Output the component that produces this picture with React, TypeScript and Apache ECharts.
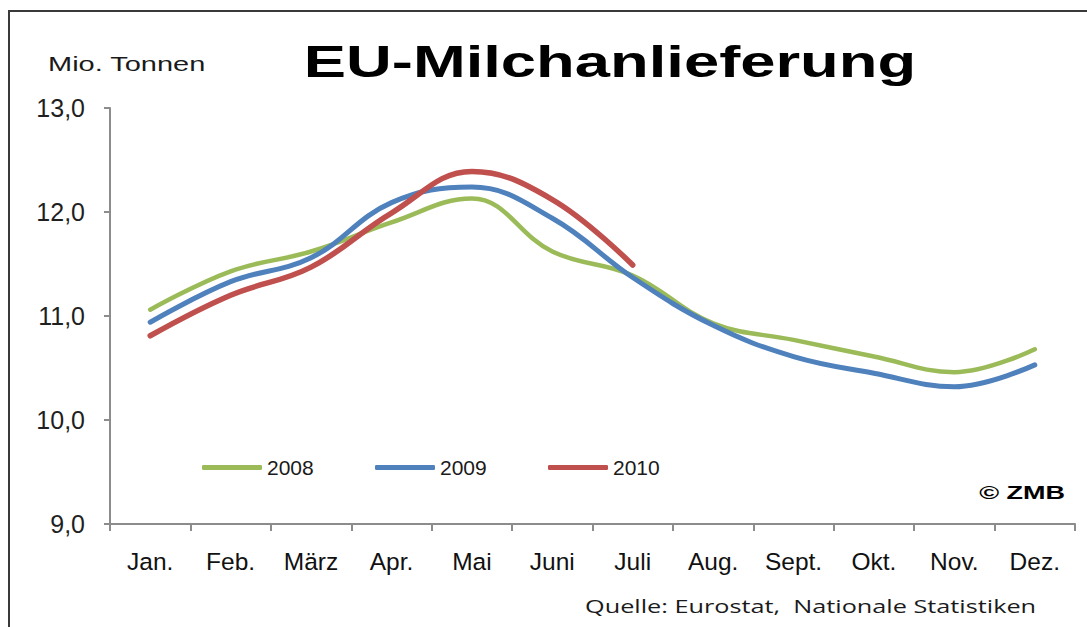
import React, { useEffect, useRef } from "react";
import * as echarts from "echarts";

const months = ["Jan.", "Feb.", "März", "Apr.", "Mai", "Juni", "Juli", "Aug.", "Sept.", "Okt.", "Nov.", "Dez."];
const values2008 = [11.06, 11.43, 11.62, 11.9, 12.13, 11.62, 11.39, 10.93, 10.77, 10.61, 10.46, 10.68];
const values2009 = [10.94, 11.33, 11.56, 12.09, 12.24, 11.94, 11.37, 10.91, 10.61, 10.45, 10.32, 10.53];
const values2010 = [10.81, 11.2, 11.47, 11.99, 12.39, 12.12, 11.49];
const yTicks = { min: 9, max: 13, interval: 1 };

const GREEN = "#9BBB59";
const BLUE = "#4F81BD";
const RED = "#C0504D";

export default function App() {
  const ref = useRef<HTMLDivElement>(null);
  useEffect(() => {
    if (!ref.current) return;
    const chart = echarts.init(ref.current, undefined, { renderer: "svg" });
    const legendText = { color: "#1a1a1a", fontSize: 21, fontFamily: "Liberation Sans" };
    const legendCommon = {
      top: 457,
      icon: "roundRect",
      itemWidth: 60,
      itemHeight: 5,
      textStyle: legendText,
      selectedMode: false,
      padding: 0,
    };
    chart.setOption({
      animation: false,
      backgroundColor: "#ffffff",
      grid: { left: 110, right: 12, top: 108, bottom: 103, containLabel: false },
      legend: [
        { ...legendCommon, left: 202, data: ["2008"] },
        { ...legendCommon, left: 375, data: ["2009"] },
        { ...legendCommon, left: 548, data: ["2010"] },
      ],
      xAxis: {
        type: "category",
        data: months,
        boundaryGap: true,
        axisLine: { lineStyle: { color: "#8c8c8c", width: 2 } },
        axisTick: { show: true, length: 7, lineStyle: { color: "#8c8c8c", width: 2 } },
        axisLabel: { color: "#111", fontSize: 24.5, fontFamily: "Liberation Sans", margin: 25 },
      },
      yAxis: {
        type: "value",
        min: yTicks.min,
        max: yTicks.max,
        interval: yTicks.interval,
        axisLine: { show: true, lineStyle: { color: "#8c8c8c", width: 2 } },
        axisTick: { show: true, length: 6, lineStyle: { color: "#8c8c8c", width: 2 } },
        splitLine: { show: false },
        axisLabel: {
          color: "#1f1f1f",
          fontSize: 25,
          fontFamily: "Liberation Sans",
          margin: 25,
          formatter: (v: number) => v.toFixed(1).replace(".", ","),
        },
      },
      series: [
        { name: "2008", type: "line", data: values2008, smooth: 0.4, symbol: "none", color: GREEN, lineStyle: { width: 4.5, color: GREEN, cap: "round" } },
        { name: "2009", type: "line", data: values2009, smooth: 0.4, symbol: "none", color: BLUE, lineStyle: { width: 5, color: BLUE, cap: "round" } },
        { name: "2010", type: "line", data: values2010, smooth: 0.4, symbol: "none", color: RED, lineStyle: { width: 5.5, color: RED, cap: "round" } },
      ],
      graphic: [
        {
          type: "polyline",
          shape: { points: [[9, 640], [9, 11], [1100, 11]] },
          style: { stroke: "#3a3a3a", lineWidth: 2, fill: "none" },
          silent: true,
        },
        {
          type: "text",
          x: 610,
          y: 62,
          scaleX: 1.44,
          style: {
            text: "EU-Milchanlieferung",
            font: "bold 44px 'Liberation Sans'",
            fill: "#000",
            textAlign: "center",
            textVerticalAlign: "middle",
          },
        },
        {
          type: "text",
          x: 48,
          y: 64,
          scaleX: 1.45,
          style: {
            text: "Mio. Tonnen",
            font: "20px 'Liberation Sans'",
            fill: "#1a1a1a",
            textAlign: "left",
            textVerticalAlign: "middle",
          },
        },
        {
          type: "text",
          x: 1065,
          y: 492,
          scaleX: 1.42,
          style: {
            text: "© ZMB",
            font: "bold 19px 'Liberation Sans'",
            fill: "#000",
            textAlign: "right",
            textVerticalAlign: "middle",
          },
        },
        {
          type: "text",
          x: 585,
          y: 606,
          scaleX: 1.33,
          style: {
            text: "Quelle: Eurostat,  Nationale Statistiken",
            font: "19px 'Open Sans'",
            fill: "#1a1a1a",
            textAlign: "left",
            textVerticalAlign: "middle",
          },
        },
      ],
    });
    return () => chart.dispose();
  }, []);
  return <div ref={ref} style={{ position: "absolute", left: 0, top: 0, width: 1087, height: 627 }} />;
}
